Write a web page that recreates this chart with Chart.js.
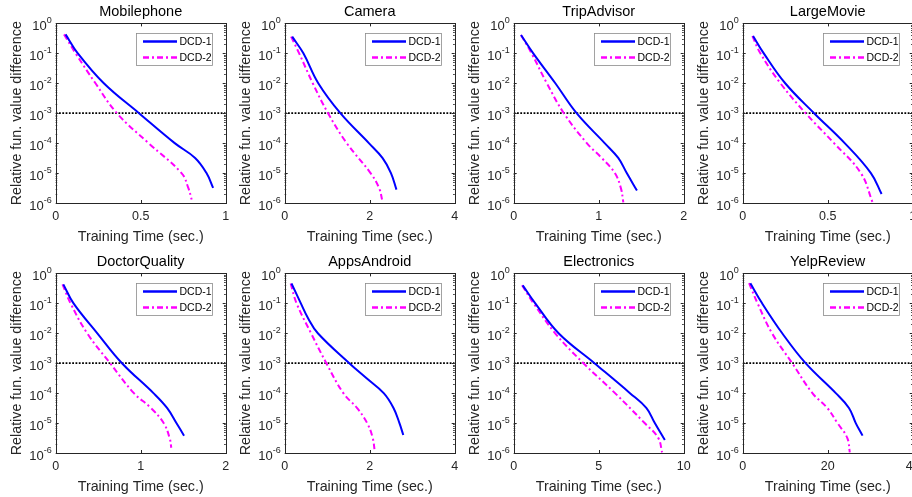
<!DOCTYPE html>
<html>
<head>
<meta charset="utf-8">
<script src="https://cdn.jsdelivr.net/npm/chart.js@4/dist/chart.umd.min.js"></script>
<style>
  body { margin: 0; background: #fff; width: 912px; height: 497px; overflow: hidden; position: relative; }
  .panel { position: absolute; width: 240px; height: 248px; }
</style>
</head>
<body>
<script>
var panelTitles = ["Mobilephone", "Camera", "TripAdvisor", "LargeMovie", "DoctorQuality", "AppsAndroid", "Electronics", "YelpReview"];
var xMaxes = [1, 4, 2, 1, 2, 4, 10, 40];
var xTickValues = [[0, 0.5, 1], [0, 2, 4], [0, 1, 2], [0, 0.5, 1], [0, 1, 2], [0, 2, 4], [0, 5, 10], [0, 20, 40]];
var yTickValues = [1, 1e-1, 1e-2, 1e-3, 1e-4, 1e-5, 1e-6];
var threshold = 1e-3;
var seriesNames = ["DCD-1", "DCD-2"];

// training time (sec.) and relative fun. value difference, one row per panel
var dcd1Time = [
  [0.058, 0.13, 0.283, 0.49, 0.70, 0.82, 0.887, 0.926],
  [0.176, 0.44, 0.79, 1.31, 1.98, 2.3, 2.5, 2.63],
  [0.086, 0.23, 0.49, 0.74, 1.07, 1.23, 1.33, 1.45],
  [0.061, 0.124, 0.25, 0.42, 0.60, 0.754, 0.817],
  [0.09, 0.21, 0.49, 0.78, 1.15, 1.31, 1.42, 1.51],
  [0.16, 0.38, 0.55, 0.78, 1.52, 1.92, 2.33, 2.56, 2.70, 2.79],
  [0.53, 1.27, 2.64, 4.75, 6.84, 7.8, 8.3, 8.89],
  [1.8, 4.57, 9.3, 14.8, 21.9, 25.0, 26.6, 28.2]
];
var dcd1Value = [
  [0.43, 1e-1, 1e-2, 1e-3, 1e-4, 3.2e-5, 1e-5, 3.2e-6],
  [0.36, 1e-1, 1e-2, 1e-3, 1e-4, 3.2e-5, 1e-5, 2.8e-6],
  [0.41, 1e-1, 1e-2, 1e-3, 1e-4, 3.2e-5, 1e-5, 2.6e-6],
  [0.38, 1e-1, 1e-2, 1e-3, 1e-4, 1e-5, 2e-6],
  [0.43, 1e-1, 1e-2, 1e-3, 1e-4, 3.2e-5, 1e-5, 3.8e-6],
  [0.46, 1e-1, 3.2e-2, 1e-2, 1e-3, 3.2e-4, 1e-4, 3.2e-5, 1e-5, 4e-6],
  [0.4, 1e-1, 1e-2, 1e-3, 1e-4, 3.2e-5, 1e-5, 2.7e-6],
  [0.47, 1e-1, 1e-2, 1e-3, 1e-4, 3.2e-5, 1e-5, 3.8e-6]
];
var dcd2Time = [
  [0.049, 0.117, 0.234, 0.36, 0.546, 0.74, 0.78, 0.80],
  [0.15, 0.34, 0.66, 1.02, 1.46, 2.02, 2.22, 2.30],
  [0.086, 0.21, 0.39, 0.59, 0.86, 1.035, 1.19, 1.26, 1.29],
  [0.057, 0.104, 0.222, 0.37, 0.537, 0.695, 0.764],
  [0.08, 0.175, 0.37, 0.64, 0.92, 1.12, 1.27, 1.34, 1.36],
  [0.14, 0.28, 0.62, 0.98, 1.38, 1.70, 1.94, 2.07, 2.12],
  [0.49, 1.17, 2.44, 4.1, 5.96, 7.7, 8.5, 8.73],
  [1.5, 3.5, 6.9, 11.65, 16.4, 19.9, 22.3, 24.6, 25.2]
];
var dcd2Value = [
  [0.43, 1e-1, 1e-2, 1e-3, 1e-4, 1e-5, 3.2e-6, 1.3e-6],
  [0.36, 1e-1, 1e-2, 1e-3, 1e-4, 1e-5, 3.2e-6, 1.15e-6],
  [0.41, 1e-1, 1e-2, 1e-3, 1e-4, 3.2e-5, 1e-5, 3.2e-6, 1.05e-6],
  [0.38, 1e-1, 1e-2, 1e-3, 1e-4, 1e-5, 1.05e-6],
  [0.43, 1e-1, 1e-2, 1e-3, 1e-4, 3.2e-5, 1e-5, 3.2e-6, 1.5e-6],
  [0.46, 1e-1, 1e-2, 1e-3, 1e-4, 3.2e-5, 1e-5, 3.2e-6, 1.1e-6],
  [0.4, 1e-1, 1e-2, 1e-3, 1e-4, 1e-5, 3.2e-6, 1.05e-6],
  [0.47, 1e-1, 1e-2, 1e-3, 1e-4, 3.2e-5, 1e-5, 3.2e-6, 1.05e-6]
];

var FONT = "'Liberation Sans', Arial, sans-serif";
var AXIS_COLOR = "#262626";

function toPoints(xs, ys){
    return xs.map(function(x, i){ return {x: x, y: ys[i]}; });
}

// box, inward ticks, 10^n labels and boxed legend like the matlab figure
var matlabAxes = {
    id: "matlabAxes",
    afterDraw: function(chart){
        var ctx = chart.ctx;
        var a = chart.chartArea;
        var xs = chart.scales.x, ys = chart.scales.y;
        ctx.save();
        ctx.strokeStyle = AXIS_COLOR;
        ctx.lineWidth = 1;
        ctx.strokeRect(Math.round(a.left) + 0.5, Math.round(a.top) + 0.5, Math.round(a.right - a.left), Math.round(a.bottom - a.top));

        ctx.beginPath();
        xs.ticks.forEach(function(t){
            var px = Math.round(xs.getPixelForValue(t.value)) + 0.5;
            ctx.moveTo(px, a.bottom); ctx.lineTo(px, a.bottom - 3);
            ctx.moveTo(px, a.top); ctx.lineTo(px, a.top + 3);
        });
        ys.ticks.forEach(function(t){
            var py = Math.round(ys.getPixelForValue(t.value)) + 0.5;
            ctx.moveTo(a.left, py); ctx.lineTo(a.left + 3, py);
            ctx.moveTo(a.right, py); ctx.lineTo(a.right - 3, py);
            for (var m = 2; m < 10 && t.value < 1; m++){
                var pm = Math.round(ys.getPixelForValue(t.value * m)) + 0.5;
                ctx.moveTo(a.left, pm); ctx.lineTo(a.left + 1.5, pm);
                ctx.moveTo(a.right, pm); ctx.lineTo(a.right - 1.5, pm);
            }
        });
        ctx.stroke();

        // y tick labels with superscript exponent
        ctx.fillStyle = AXIS_COLOR;
        ctx.textBaseline = "middle";
        ctx.textAlign = "right";
        ys.ticks.forEach(function(t){
            var py = ys.getPixelForValue(t.value);
            var exp = String(Math.round(Math.log10(t.value)));
            ctx.font = "9px " + FONT;
            var ew = ctx.measureText(exp).width;
            ctx.fillText(exp, a.left - 4, py - 2.5);
            ctx.font = "13px " + FONT;
            ctx.fillText("10", a.left - 4 - ew, py + 3);
        });

        // legend
        var bw = 76, bh = 32;
        var bx = Math.round(a.right - 13.5 - bw) + 0.5, by = Math.round(a.top + 10) + 0.5;
        ctx.fillStyle = "#fff";
        ctx.fillRect(bx, by, bw, bh);
        ctx.strokeStyle = "#8c8c8c";
        ctx.lineWidth = 0.8;
        ctx.strokeRect(bx, by, bw, bh);
        ctx.textAlign = "left";
        ctx.font = "10.5px " + FONT;
        chart.data.datasets.slice(0, 2).forEach(function(ds, i){
            var ly = by + 8 + i * 16;
            ctx.strokeStyle = ds.borderColor;
            ctx.lineWidth = 2.4;
            ctx.setLineDash(ds.borderDash || []);
            ctx.beginPath();
            ctx.moveTo(bx + 6.5, ly); ctx.lineTo(bx + 40.5, ly);
            ctx.stroke();
            ctx.setLineDash([]);
            ctx.fillStyle = "#000";
            ctx.fillText(ds.label, bx + 43, ly + 0.5);
        });
        ctx.restore();
    }
};

function drawPanel(i){
    var col = i % 4, row = Math.floor(i / 4);
    var canvas = document.createElement("canvas");
    canvas.className = "panel";
    canvas.width = 240; canvas.height = 248;
    canvas.style.left = (col * 229) + "px";
    canvas.style.top = (row * 250) + "px";
    document.body.appendChild(canvas);

    var ticksX = xTickValues[i];
    new Chart(canvas, {
        type: "line",
        data: {
            datasets: [{
                label: seriesNames[0],
                data: toPoints(dcd1Time[i], dcd1Value[i]),
                borderColor: "#0000ff",
                borderWidth: 2,
                pointRadius: 0,
                tension: 0.4
            }, {
                label: seriesNames[1],
                data: toPoints(dcd2Time[i], dcd2Value[i]),
                borderColor: "#ff00ff",
                borderWidth: 2,
                borderDash: [6, 3, 2, 3],
                pointRadius: 0,
                tension: 0.4
            }, {
                label: "threshold",
                data: [{x: 0, y: threshold}, {x: xMaxes[i], y: threshold}],
                borderColor: "#000",
                borderWidth: 1.8,
                borderDash: [1.8, 1.5],
                pointRadius: 0
            }]
        },
        options: {
            responsive: false,
            animation: false,
            events: [],
            layout: {padding: {left: 0, right: 14.3, top: 0, bottom: 0}},
            plugins: {
                legend: {display: false},
                tooltip: {enabled: false},
                title: {
                    display: true,
                    fullSize: false,
                    text: panelTitles[i],
                    color: "#000",
                    font: {family: FONT, size: 14.5, weight: "normal"},
                    padding: {top: 3, bottom: 3}
                }
            },
            scales: {
                x: {
                    type: "linear",
                    min: 0,
                    max: xMaxes[i],
                    afterBuildTicks: function(s){ s.ticks = ticksX.map(function(v){ return {value: v}; }); },
                    afterFit: function(s){ s.height = 45; },
                    grid: {display: false, drawTicks: false},
                    border: {display: false},
                    ticks: {
                        color: AXIS_COLOR, font: {family: FONT, size: 12.5}, padding: 6, maxRotation: 0, autoSkip: false,
                        callback: function(v){ return String(v); }
                    },
                    title: {display: true, text: "Training Time (sec.)", color: AXIS_COLOR, font: {family: FONT, size: 14.3}, padding: {top: 0, bottom: 2.5}}
                },
                y: {
                    type: "logarithmic",
                    min: 1e-6,
                    max: 1,
                    afterBuildTicks: function(s){ s.ticks = yTickValues.map(function(v){ return {value: v}; }); },
                    afterFit: function(s){ s.width = 55.7; },
                    grid: {display: false, drawTicks: false},
                    border: {display: false},
                    ticks: {display: false},
                    title: {display: true, text: "Relative fun. value difference", color: AXIS_COLOR, font: {family: FONT, size: 14.3}, padding: {top: 8, bottom: 0}}
                }
            }
        },
        plugins: [matlabAxes]
    });
}

for (var i = 0; i < panelTitles.length; i++){
    drawPanel(i);
}
</script>
</body>
</html>
